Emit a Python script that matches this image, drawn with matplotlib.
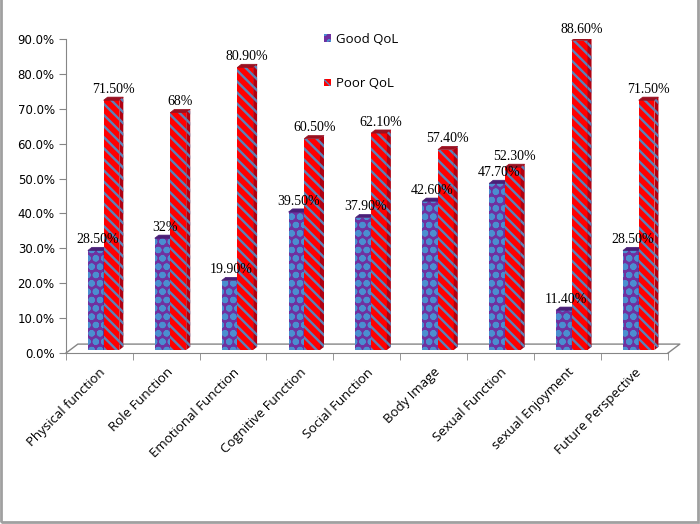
import matplotlib
matplotlib.use("Agg")
import matplotlib.pyplot as plt
from matplotlib.patches import Polygon, Rectangle
import numpy as np

# Data
categories = ["Physical function", "Role Function", "Emotional Function",
              "Cognitive Function", "Social Function", "Body Image",
              "Sexual Function", "sexual Enjoyment", "Future Perspective"]
good_qol = [28.5, 32.0, 19.9, 39.5, 37.9, 42.6, 47.7, 11.4, 28.5]
poor_qol = [71.5, 68.0, 80.9, 60.5, 62.1, 57.4, 52.3, 88.6, 71.5]
good_labels = ["28.50%", "32%", "19.90%", "39.50%", "37.90%", "42.60%",
               "47.70%", "11.40%", "28.50%"]
poor_labels = ["71.50%", "68%", "80.90%", "60.50%", "62.10%", "57.40%",
               "52.30%", "88.60%", "71.50%"]
y_ticks = [0, 10, 20, 30, 40, 50, 60, 70, 80, 90]

# styling / pseudo-3D geometry
purple = "#7030A0"
dot_blue = "#4A8ED0"
red = "#FF0000"
stripe_blue = "#5B82B8"
axis_gray = "#868686"
bar_w = 0.235
dx, dy = 0.06, 0.9          # depth of bar top/side faces
base = 0.9                  # bars sit mid-depth on the floor
floor_dx, floor_dy = 0.18, 2.6
sans = "Open Sans"

fig = plt.figure(figsize=(7.0, 5.24), dpi=100)
ax = fig.add_axes([0.094, 0.326, 0.86, 0.6])

x = np.arange(len(categories))


def draw_bars(xs, vals, face, hatch_col, hatch, hlw, top_col, side_col, label):
    with plt.rc_context({"hatch.linewidth": hlw}):
        bars = ax.bar(xs, vals, width=bar_w, bottom=base, align="edge",
                      color=face, edgecolor=hatch_col, hatch=hatch,
                      linewidth=0, zorder=3, label=label)
        for xi, v in zip(xs, vals):
            top = [(xi, v + base), (xi + bar_w, v + base),
                   (xi + bar_w + dx, v + base + dy), (xi + dx, v + base + dy)]
            ax.add_patch(Polygon(top, closed=True, facecolor=top_col,
                                 edgecolor=top_col, linewidth=0.5, zorder=3))
            side = [(xi + bar_w, base), (xi + bar_w, v + base),
                    (xi + bar_w + dx, v + base + dy), (xi + bar_w + dx, base + dy)]
            ax.add_patch(Polygon(side, closed=True, facecolor=side_col,
                                 edgecolor=hatch_col, hatch=hatch,
                                 linewidth=0, zorder=3))
    return bars


good_x = x - 0.17
poor_x = x + 0.065
draw_bars(good_x, good_qol, purple, dot_blue, "oo", 2.2,
          "#4A1F78", "#4A1F78", "Good QoL")
draw_bars(poor_x, poor_qol, red, stripe_blue, "\\\\\\", 1.7,
          "#9A1020", "#B00010", "Poor QoL")

# value labels
for xi, v, t in zip(good_x, good_qol, good_labels):
    ax.text(xi + (bar_w + dx) / 2, v + base + dy + 0.3, t, ha="center",
            va="bottom", family="Liberation Serif", fontsize=10, zorder=5,
            clip_on=False)
for xi, v, t in zip(poor_x, poor_qol, poor_labels):
    ax.text(xi + (bar_w + dx) / 2, v + base + dy + 0.3, t, ha="center",
            va="bottom", family="Liberation Serif", fontsize=10, zorder=5,
            clip_on=False)

# floor of the 3D box
x0, x1 = -0.5, len(categories) - 0.5
ax.plot([x0, x0 + floor_dx, x1 + floor_dx, x1],
        [0, floor_dy, floor_dy, 0], color=axis_gray, lw=1,
        clip_on=False, zorder=1)

ax.set_xlim(x0, x1)
ax.set_ylim(0, 90)
ax.set_yticks(y_ticks)
ax.set_yticklabels([f"{t:.1f}%" for t in y_ticks], family="DejaVu Sans",
                   fontsize=8.5)
ax.set_xticks(x)
ax.set_xticklabels(categories, rotation=45, ha="right",
                   rotation_mode="anchor", family=sans, fontsize=9.5)
ax.set_xticks(np.arange(x0, x1 + 0.01, 1.0), minor=True)
ax.tick_params(axis="x", which="major", length=0, pad=9)
ax.tick_params(axis="x", which="minor", length=5, color=axis_gray)
ax.tick_params(axis="y", length=5, color=axis_gray, pad=3)

for s in ["top", "right"]:
    ax.spines[s].set_visible(False)
for s in ["left", "bottom"]:
    ax.spines[s].set_color(axis_gray)

ax.legend(loc="upper left", bbox_to_anchor=(0.41, 1.057), frameon=False,
          handlelength=0.5, handleheight=0.5, handletextpad=0.4,
          labelspacing=2.4, prop={"family": sans, "size": 9.5})

# chart frame
fig.add_artist(Rectangle((0.002, 0.004), 0.995, 1.1, transform=fig.transFigure,
                         fill=False, edgecolor="#A0A0A0", linewidth=2))

fig.savefig("out.png", dpi=100)
